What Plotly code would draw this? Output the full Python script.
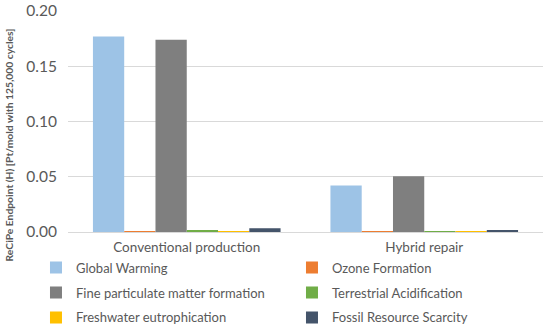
import plotly.graph_objects as go

categories = ["Conventional production", "Hybrid repair"]
series_names = ["Global Warming", "Ozone Formation", "Fine particulate matter formation",
                "Terrestrial Acidification", "Freshwater eutrophication", "Fossil Resource Scarcity"]
global_warming = [0.177, 0.042]
ozone_formation = [0.0008, 0.0001]
fine_particulate = [0.174, 0.0505]
terrestrial_acid = [0.0018, 0.0002]
freshwater_eutro = [0.0003, 0.0001]
fossil_scarcity = [0.0034, 0.0012]
colors = ["#9DC3E6", "#ED7D31", "#7F7F7F", "#70AD47", "#FFC000", "#44546A"]
y_ticks = [0.0, 0.05, 0.10, 0.15, 0.20]
y_title = "ReCiPe Endpoint (H) [Pt/mold with 125,000 cycles]"

values = [global_warming, ozone_formation, fine_particulate,
          terrestrial_acid, freshwater_eutro, fossil_scarcity]
legend_ids = ["legend", "legend", "legend2", "legend2", "legend3", "legend3"]

FONT = "Lato, Open Sans, DejaVu Sans, sans-serif"
GREY = "#595959"

fig = go.Figure()
for name, vals, col, lg in zip(series_names, values, colors, legend_ids):
    fig.add_trace(go.Bar(x=categories, y=vals, name=name, marker_color=col,
                         marker_line_width=0, legend=lg))

legend_common = dict(orientation="h", x=-0.0674, xanchor="left", yanchor="middle",
                     entrywidth=211, entrywidthmode="pixels",
                     font=dict(size=13, color=GREY, family=FONT),
                     traceorder="normal", itemwidth=30, bgcolor="rgba(0,0,0,0)")

fig.update_layout(
    width=550, height=331,
    margin=dict(l=68, r=7, t=10.7, b=98.7, autoexpand=False),
    paper_bgcolor="white", plot_bgcolor="white",
    barmode="group", bargap=0.21, bargroupgap=0,
    font=dict(family=FONT, color=GREY, size=13),
    showlegend=True,
    legend=dict(legend_common, y=-0.161),
    legend2=dict(legend_common, y=-0.2739),
    legend3=dict(legend_common, y=-0.3867),
    xaxis=dict(showline=True, linecolor="#D9D9D9", linewidth=1, ticks="",
               tickfont=dict(size=13.5, color=GREY), ticklabelstandoff=3),
    yaxis=dict(range=[0, 0.2], tickvals=y_ticks, tickformat=".2f",
               gridcolor="#D9D9D9", gridwidth=1, zeroline=False, showline=False,
               ticks="", tickfont=dict(size=15.5, color=GREY), ticklabelstandoff=10,
               ticklabeloverflow="allow"),
    annotations=[dict(text="<b>" + y_title + "</b>", textangle=-90,
                      xref="paper", yref="paper", x=-0.1242, y=0.3917,
                      xanchor="center", yanchor="middle", showarrow=False,
                      font=dict(size=10.3, color=GREY, family=FONT))],
)

fig.write_html("out.html", config={"displayModeBar": False},
               post_script="document.body.style.margin='0px';")
